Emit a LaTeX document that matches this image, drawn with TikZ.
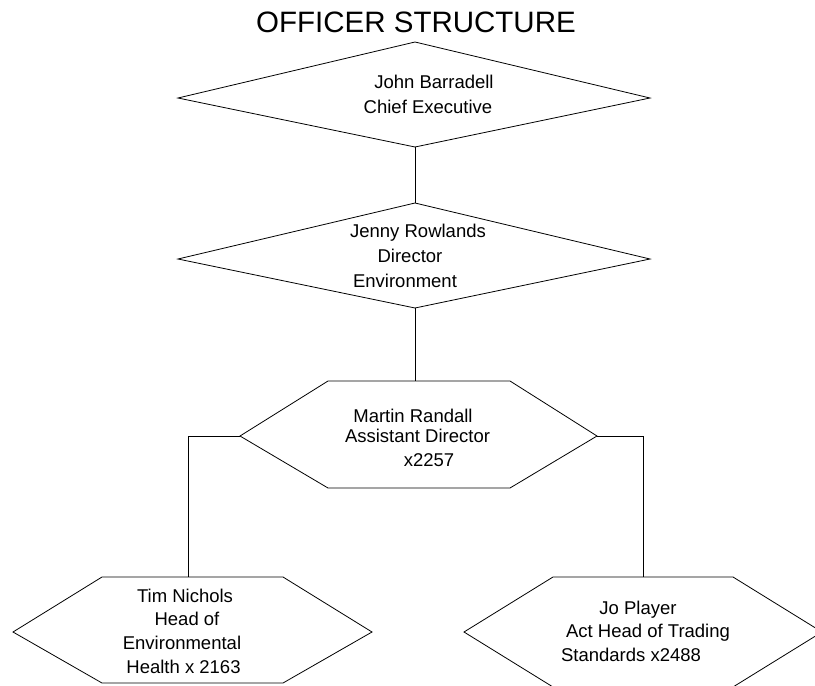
\documentclass[tikz,border=0pt]{standalone}
\usepackage{fontspec}
\setmainfont{Liberation Sans}
\begin{document}
\begin{tikzpicture}[x=1pt,y=-1pt,
  shapeline/.style={draw=black, line width=0.8pt, line join=miter},
  conn/.style={draw=black, line width=0.8pt},
  lbl/.style={anchor=base, inner sep=0pt, font=\fontsize{18.5}{22}\selectfont},
  ttl/.style={anchor=base, inner sep=0pt, font=\fontsize{29.5}{34}\selectfont}]
\useasboundingbox (0,0) rectangle (815,686);
\clip (0,0) rectangle (815,686);
\fill[white] (0,0) rectangle (815,686);

% title
\node[ttl] (title) at (416,32) {OFFICER STRUCTURE};

% diamond 1
\coordinate (d1t) at (415,42);
\coordinate (d1l) at (178,98);
\coordinate (d1r) at (650,98);
\coordinate (d1b) at (415,147);
\draw[shapeline] (d1t) -- (d1r) -- (d1b) -- (d1l) -- cycle;
\node[lbl] (d1a) at (434,88) {John Barradell};
\node[lbl] (d1c) at (428,113) {Chief Executive};

% diamond 2
\coordinate (d2t) at (415,203);
\coordinate (d2l) at (178,259);
\coordinate (d2r) at (650,259);
\coordinate (d2b) at (415,308);
\draw[shapeline] (d2t) -- (d2r) -- (d2b) -- (d2l) -- cycle;
\node[lbl] (d2a) at (418,237) {Jenny Rowlands};
\node[lbl] (d2c) at (410,262) {Director};
\node[lbl] (d2e) at (405,287) {Environment};

% hexagon 1
\coordinate (h1t) at (415,381);
\coordinate (h1l) at (240,436);
\coordinate (h1r) at (597,436);
\draw[shapeline] (328,381) -- (510,381) -- (h1r) -- (510,488) -- (328,488) -- (h1l) -- cycle;
\node[lbl] (h1a) at (413,422) {Martin Randall};
\node[lbl] (h1c) at (417.5,442) {Assistant Director};
\node[lbl] (h1e) at (429,466.5) {x2257};

% hexagon 2 (left)
\coordinate (h2t) at (188,577);
\draw[shapeline] (102,577) -- (283,577) -- (372,632) -- (283,683) -- (102,683) -- (13,632) -- cycle;
\node[lbl] (h2a) at (185,602) {Tim Nichols};
\node[lbl] (h2c) at (187,625.5) {Head of};
\node[lbl] (h2e) at (182,649.5) {Environmental};
\node[lbl] (h2g) at (183.5,673.5) {Health x 2163};

% hexagon 3 (right)
\coordinate (h3t) at (643,577);
\draw[shapeline] (553,577) -- (733,577) -- (822,632) -- (733,687) -- (553,687) -- (464,632) -- cycle;
\node[lbl] (h3a) at (638,614.5) {Jo Player};
\node[lbl] (h3c) at (648,637.5) {Act Head of Trading};
\node[lbl] (h3e) at (631,661.5) {Standards x2488};

% connectors
\draw[conn] (d1b) -- (d2t);
\draw[conn] (d2b) -- (h1t);
\draw[conn] (h1l) -| (h2t);
\draw[conn] (h1r) -| (h3t);
\end{tikzpicture}
\end{document}
